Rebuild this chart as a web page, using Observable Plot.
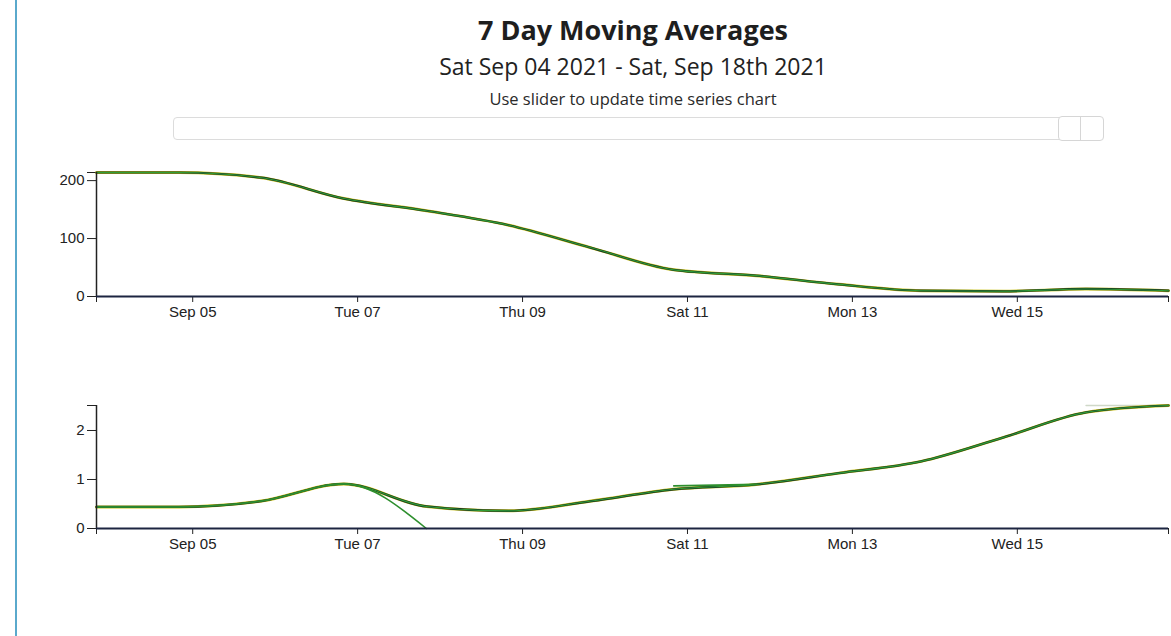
<!DOCTYPE html>
<html><head><meta charset="utf-8">
<script src="https://cdn.jsdelivr.net/npm/d3@7"></script>
<script src="https://cdn.jsdelivr.net/npm/@observablehq/plot@0.6"></script>
<style>
html,body{margin:0;padding:0;background:#fff;width:1171px;height:636px;overflow:hidden;font-family:"Open Sans",sans-serif;}
#vline{position:absolute;left:15px;top:0;width:2px;height:636px;background:#5aa9cc;}
.t{position:absolute;left:95px;width:1076px;text-align:center;color:#1e1e1e;white-space:nowrap;}
#title{top:11px;font-weight:700;font-size:27px;}
#subtitle{top:50px;font-size:23px;color:#222;}
#hint{top:87px;font-size:16.5px;color:#2a2a2a;}
#track{position:absolute;left:173px;top:117px;width:929px;height:21px;border:1px solid #dcdcdc;border-radius:4px;}
#handle{position:absolute;left:1058px;top:116px;width:44px;height:23px;border:1px solid #d6d6d6;border-radius:4px;background:#fff;}
#handle div{position:absolute;left:21px;top:0;width:1px;height:23px;background:#d6d6d6;}
.chart{position:absolute;left:0;}
#c1{top:150px;}
#c2{top:383px;}
</style></head>
<body>
<div id="vline"></div>
<div class="t" id="title">7 Day Moving Averages</div>
<div class="t" id="subtitle">Sat Sep 04 2021 - Sat, Sep 18th 2021</div>
<div class="t" id="hint">Use slider to update time series chart</div>
<div id="track"></div>
<div id="handle"><div></div></div>
<div class="chart" id="c1"></div>
<div class="chart" id="c2"></div>
<script>
// ---- data ----
const dates = ["2021-09-04","2021-09-05","2021-09-06","2021-09-07","2021-09-08","2021-09-09","2021-09-10",
               "2021-09-11","2021-09-12","2021-09-13","2021-09-14","2021-09-15","2021-09-16","2021-09-17"];
const casesAvg  = [214, 214, 205, 169, 148, 123, 84, 46, 36, 21, 10, 9, 13, 10];
const deathsAvg = [0.44, 0.44, 0.56, 0.91, 0.45, 0.36, 0.56, 0.80, 0.90, 1.13, 1.37, 1.86, 2.37, 2.51];
const deathsDropDates = ["2021-09-04","2021-09-05","2021-09-06","2021-09-07","2021-09-08"];
const deathsDrop = [0.44, 0.44, 0.56, 0.91, 0];
const deathsShortDates = ["2021-09-11","2021-09-12"];
const deathsShort = [0.87, 0.90];
const deathsTopDates = ["2021-09-16","2021-09-17"];
const deathsTop = [2.51, 2.51];
const xTickDates  = ["2021-09-05T04:00Z","2021-09-07T04:00Z","2021-09-09T04:00Z","2021-09-11T04:00Z","2021-09-13T04:00Z","2021-09-15T04:00Z"];
const xTickLabels = ["Sep 05","Tue 07","Thu 09","Sat 11","Mon 13","Wed 15"];
const casesTicks  = [0, 100, 200];
const deathsTicks = [0, 1, 2];

// ---- helpers ----
const toRows = (ds, vs) => ds.map((d, i) => ({date: new Date(d), value: vs[i]}));
const x0 = new Date(dates[0]), x1 = new Date(dates[dates.length - 1]);
const labelByTime = new Map(xTickDates.map((d, i) => [+new Date(d), xTickLabels[i]]));

function chart(lines, yTicks, ymax, mb) {
  return Plot.plot({
    width: 1171, height: 172,
    marginLeft: 96, marginRight: 3, marginTop: 22, marginBottom: mb,
    style: {fontFamily: "'Liberation Sans', Arial, sans-serif", fontSize: "15px", color: "#222", background: "transparent", overflow: "visible"},
    x: {type: "utc", domain: [x0, x1]},
    y: {domain: [0, ymax]},
    marks: [
      Plot.axisX({ticks: [x0, ...xTickDates.map(d => new Date(d)), x1], tickFormat: d => labelByTime.get(+d) ?? "", tickSize: 6, tickPadding: 4, label: null, stroke: "#222"}),
      Plot.axisY({ticks: [...yTicks, ymax], tickFormat: d => (d === ymax ? "" : String(d)), tickSize: 9, tickPadding: 3, label: null, stroke: "#222"}),
      ...lines,
      Plot.ruleX([x0], {stroke: "#222", strokeWidth: 1.5}),
      Plot.ruleY([0], {stroke: "#1c2541", strokeWidth: 2})
    ]
  });
}

const cases = toRows(dates, casesAvg);
const c1 = chart([
  Plot.line(cases, {x: "date", y: "value", curve: "monotone-x", stroke: "#c9c21a", strokeWidth: 3}),
  Plot.line(cases, {x: "date", y: "value", curve: "monotone-x", stroke: "#173424", strokeWidth: 2.2}),
  Plot.line(cases, {x: "date", y: "value", curve: "monotone-x", stroke: "#2f9e36", strokeWidth: 1.1})
], casesTicks, d3.max(casesAvg), 26);
document.getElementById("c1").append(c1);

const deaths = toRows(dates, deathsAvg);
const c2 = chart([
  Plot.line(toRows(deathsTopDates, deathsTop), {x: "date", y: "value", stroke: "#cfd8c8", strokeWidth: 1.5}),
  Plot.line(deaths, {x: "date", y: "value", curve: "monotone-x", stroke: "#c9c21a", strokeWidth: 3}),
  Plot.line(deaths, {x: "date", y: "value", curve: "monotone-x", stroke: "#173424", strokeWidth: 2.2}),
  Plot.line(deaths, {x: "date", y: "value", curve: "monotone-x", stroke: "#2f9e36", strokeWidth: 1.1}),
  Plot.line(toRows(deathsDropDates, deathsDrop), {x: "date", y: "value", curve: "monotone-x", stroke: "#2e8f2e", strokeWidth: 1.6}),
  Plot.line(toRows(deathsShortDates, deathsShort), {x: "date", y: "value", stroke: "#2e8f2e", strokeWidth: 1.6})
], deathsTicks, d3.max(deathsAvg), 27);
document.getElementById("c2").append(c2);
</script>
</body></html>
